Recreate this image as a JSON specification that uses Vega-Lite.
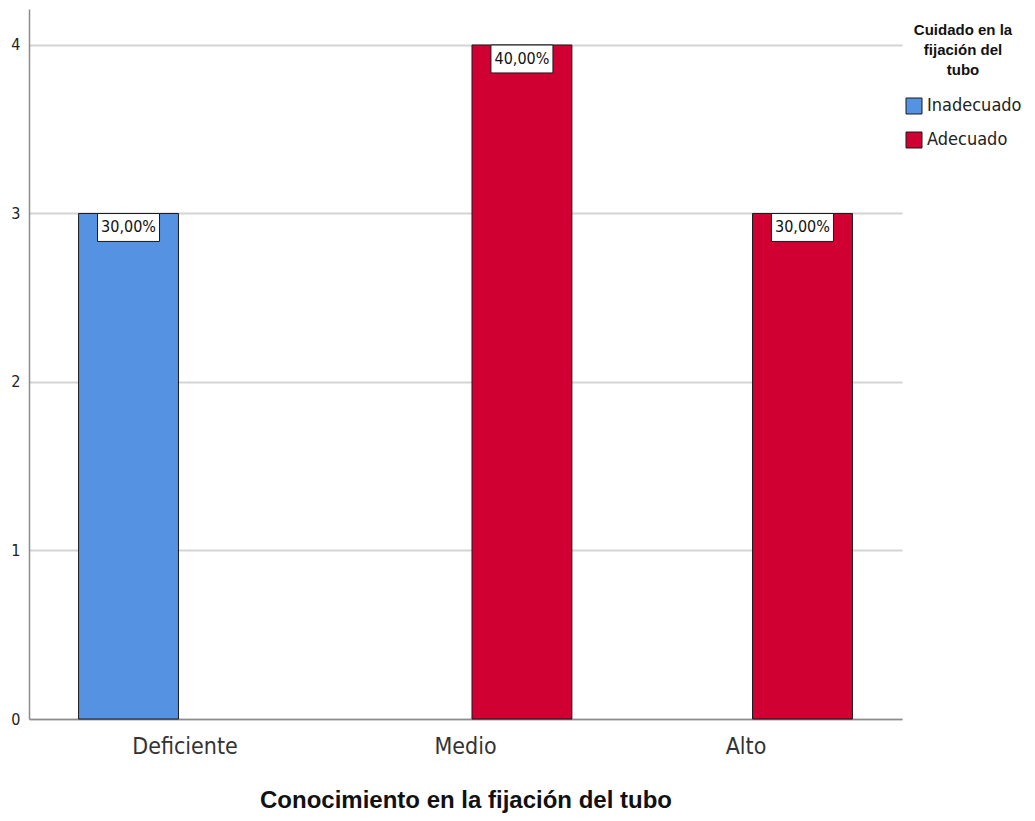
{
  "$schema": "https://vega.github.io/schema/vega-lite/v6.json",
  "autosize": {"type": "none"},
  "width": 873,
  "height": 710,
  "padding": {"left": 29, "top": 9, "right": 133, "bottom": 102},
  "background": "white",
  "data": {
    "values": [
      {"conocimiento": "Deficiente", "cuidado": "Inadecuado", "n": 3, "porcentaje": "30,00%"},
      {"conocimiento": "Medio", "cuidado": "Adecuado", "n": 4, "porcentaje": "40,00%"},
      {"conocimiento": "Alto", "cuidado": "Adecuado", "n": 3, "porcentaje": "30,00%"}
    ]
  },
  "encoding": {
    "x": {
      "field": "conocimiento",
      "type": "nominal",
      "scale": {"domain": ["Deficiente", "Medio", "Alto"], "paddingInner": 0, "paddingOuter": 0.056},
      "axis": {
        "title": "Conocimiento en la fijación del tubo",
        "labelAngle": 0,
        "ticks": false,
        "labelPadding": 16,
        "labelFontSize": 23,
        "labelFont": "Liberation Sans Narrow, DejaVu Sans Condensed, sans-serif",
        "labelColor": "#333333",
        "titleFont": "Liberation Sans Narrow, Liberation Sans, sans-serif",
        "titleFontWeight": "bold",
        "titleFontSize": 24,
        "titleColor": "#111111",
        "titlePadding": 30,
        "domainColor": "#8c8c8c",
        "domainWidth": 1.5,
        "grid": false
      }
    },
    "xOffset": {
      "field": "cuidado",
      "type": "nominal",
      "scale": {"domain": ["Inadecuado", "Adecuado"], "paddingInner": 0.115, "paddingOuter": 0.3}
    },
    "y": {
      "field": "n",
      "type": "quantitative",
      "scale": {"domain": [0, 4.2136], "nice": false},
      "axis": {
        "title": null,
        "values": [0, 1, 2, 3, 4],
        "format": "d",
        "ticks": false,
        "labelPadding": 9,
        "labelFontSize": 16,
        "labelFont": "Liberation Sans Narrow, DejaVu Sans Condensed, sans-serif",
        "labelColor": "#222222",
        "domainColor": "#8c8c8c",
        "domainWidth": 1.5,
        "grid": true,
        "gridColor": "#d4d4d4",
        "gridWidth": 2
      }
    }
  },
  "layer": [
    {
      "mark": {"type": "bar", "stroke": "#1a1a1a", "strokeWidth": 1},
      "encoding": {
        "color": {
          "field": "cuidado",
          "type": "nominal",
          "scale": {"domain": ["Inadecuado", "Adecuado"], "range": ["#5592E2", "#D10033"]},
          "legend": {
            "title": ["Cuidado en la", "fijación del", "tubo"],
            "orient": "none",
            "legendX": 876,
            "legendY": 14,
            "titleAnchor": "middle",
            "titleAlign": "center",
            "titleFont": "Liberation Sans, sans-serif",
            "titleFontWeight": "bold",
            "titleFontSize": 15,
            "titleLineHeight": 20,
            "titleColor": "#111111",
            "titlePadding": 19,
            "symbolType": "square",
            "symbolSize": 256,
            "symbolStrokeColor": "#1a1a1a",
            "symbolStrokeWidth": 1,
            "symbolOpacity": 1,
            "labelFont": "Liberation Sans Narrow, DejaVu Sans Condensed, sans-serif",
            "labelFontSize": 18,
            "labelColor": "#222222",
            "labelOffset": 4,
            "rowPadding": 14
          }
        }
      }
    },
    {
      "mark": {
        "type": "point",
        "shape": "M-1,-0.45L1,-0.45L1,0.45L-1,0.45Z",
        "size": 3844,
        "filled": true,
        "fill": "white",
        "stroke": "#1a1a1a",
        "strokeWidth": 1,
        "opacity": 1,
        "yOffset": 14
      }
    },
    {
      "mark": {
        "type": "text",
        "baseline": "middle",
        "align": "center",
        "yOffset": 14,
        "fontSize": 16,
        "font": "Liberation Sans Narrow, DejaVu Sans Condensed, sans-serif",
        "color": "#111111"
      },
      "encoding": {"text": {"field": "porcentaje"}}
    }
  ],
  "config": {"view": {"stroke": null}}
}
